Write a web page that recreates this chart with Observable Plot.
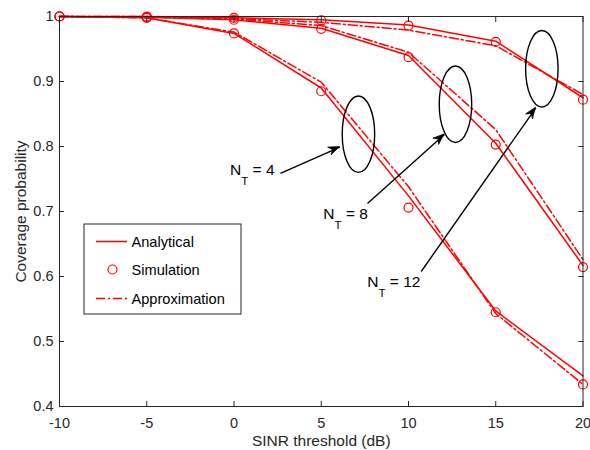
<!DOCTYPE html>
<html>
<head>
<meta charset="utf-8">
<script src="https://cdn.jsdelivr.net/npm/d3@7"></script>
<script src="https://cdn.jsdelivr.net/npm/@observablehq/plot@0.6"></script>
<style>
  body { margin: 0; background: #fff; }
  #chart svg { display: block; }
</style>
</head>
<body>
<div id="chart"></div>
<script>
// ---- data ----
const snr = [-10, -5, 0, 5, 10, 15, 20];
const antennas = ["4", "8", "12"];
const nt4Analytical  = [1, 0.998, 0.974, 0.890, 0.724, 0.547, 0.447];
const nt4Simulation  = [1, 0.998, 0.974, 0.885, 0.706, 0.545, 0.434];
const nt4Approx      = [1, 0.998, 0.976, 0.899, 0.738, 0.543, 0.434];
const nt8Analytical  = [1, 0.999, 0.995, 0.982, 0.940, 0.805, 0.617];
const nt8Simulation  = [1, 0.999, 0.995, 0.981, 0.9375, 0.803, 0.6145];
const nt8Approx      = [1, 0.999, 0.996, 0.986, 0.945, 0.826, 0.626];
const nt12Analytical = [1, 1.0, 0.998, 0.995, 0.987, 0.962, 0.875];
const nt12Simulation = [1, 1.0, 0.998, 0.994, 0.986, 0.961, 0.872];
const nt12Approx     = [1, 1.0, 0.997, 0.991, 0.979, 0.955, 0.880];
const xTicks = [-10, -5, 0, 5, 10, 15, 20];
const yTicks = [0.4, 0.5, 0.6, 0.7, 0.8, 0.9, 1];
const legendLabels = ["Analytical", "Simulation", "Approximation"];
const xLabel = "SINR threshold (dB)";
const yLabel = "Coverage probability";

// annotations (data coordinates)
const ellipseX = [7.16, 12.72, 17.67];
const ellipseY = [0.8182, 0.8643, 0.9188];
const ellipseRx = 0.93;
const ellipseRy = 0.0588;
const arrowX1 = [2.66, 7.65, 10.73];
const arrowY1 = [0.7585, 0.7123, 0.6077];
const arrowX2 = [6.07, 12.06, 17.30];
const arrowY2 = [0.7992, 0.8185, 0.8595];
const labelX = [-0.2, 5.15, 7.67];
const labelY = [0.7554, 0.687, 0.5835];

// ---- build tables ----
function rows(seriesList) {
  const out = [];
  seriesList.forEach((vals, k) => vals.forEach((v, i) => out.push({snr: snr[i], p: v, nt: antennas[k]})));
  return out;
}
const analytical = rows([nt4Analytical, nt8Analytical, nt12Analytical]);
const simulation = rows([nt4Simulation, nt8Simulation, nt12Simulation]);
const approx = rows([nt4Approx, nt8Approx, nt12Approx]);
const arrows = arrowX1.map((d, i) => ({x1: d, y1: arrowY1[i], x2: arrowX2[i], y2: arrowY2[i]}));

const RED = "#ff0000";
const AX = "#262626";
const FONT = "'Liberation Sans', Arial, Helvetica, sans-serif";

function annotations(index, scales, values, dimensions) {
  const {x, y} = scales;
  const g = d3.create("svg:g").attr("font-family", FONT).attr("text-anchor", "start");
  // ellipses
  ellipseX.forEach((cx, i) => {
    g.append("ellipse")
      .attr("cx", x(cx)).attr("cy", y(ellipseY[i]))
      .attr("rx", Math.abs(x(cx + ellipseRx) - x(cx)))
      .attr("ry", Math.abs(y(ellipseY[i] + ellipseRy) - y(ellipseY[i])))
      .attr("fill", "none").attr("stroke", "#000").attr("stroke-width", 1.4);
  });
  // arrow heads
  arrows.forEach(a => {
    const tx = x(a.x2), ty = y(a.y2);
    const ang = Math.atan2(ty - y(a.y1), tx - x(a.x1));
    const L = 11, W = 4.2, N = 7.5;
    const ux = Math.cos(ang), uy = Math.sin(ang);
    const px = -uy, py = ux;
    const bx = tx - ux * L, by = ty - uy * L;
    const nx = tx - ux * N, ny = ty - uy * N;
    g.append("path")
      .attr("d", `M${tx},${ty}L${bx + px * W},${by + py * W}L${nx},${ny}L${bx - px * W},${by - py * W}Z`)
      .attr("fill", "#000").attr("stroke", "#000").attr("stroke-width", 0.8);
  });
  // N_T labels
  labelX.forEach((lx, i) => {
    const t = g.append("text").attr("x", x(lx)).attr("y", y(labelY[i]))
      .attr("text-anchor", "start")
      .attr("font-size", 15.5).attr("fill", "#000");
    t.append("tspan").text("N");
    t.append("tspan").attr("dy", 10).attr("font-size", 11.5).text("T");
    t.append("tspan").attr("dy", -10).text(" = " + antennas[i]);
  });
  // legend
  const L0 = dimensions.marginLeft, T0 = dimensions.marginTop;
  const lg = g.append("g").attr("transform", `translate(${L0 + 25},${T0 + 208})`);
  lg.append("rect").attr("x", 0).attr("y", 0).attr("width", 157).attr("height", 90)
    .attr("fill", "#fff").attr("stroke", AX).attr("stroke-width", 1);
  const rowY = [17.5, 45.5, 74.5];
  lg.append("line").attr("x1", 12).attr("x2", 43).attr("y1", rowY[0]).attr("y2", rowY[0])
    .attr("stroke", RED).attr("stroke-width", 1.5);
  lg.append("circle").attr("cx", 28.5).attr("cy", rowY[1]).attr("r", 4.5)
    .attr("fill", "none").attr("stroke", RED).attr("stroke-width", 1.2);
  lg.append("line").attr("x1", 12).attr("x2", 43).attr("y1", rowY[2]).attr("y2", rowY[2])
    .attr("stroke", RED).attr("stroke-width", 1.5).attr("stroke-dasharray", "9,3,2,3");
  legendLabels.forEach((s, i) => {
    lg.append("text").attr("x", 47.5).attr("y", rowY[i] + 5.6)
      .attr("text-anchor", "start")
      .attr("font-size", 14.6).attr("fill", "#000").text(s);
  });
  return g.node();
}

const chart = Plot.plot({
  width: 590,
  height: 450,
  marginLeft: 59,
  marginRight: 7.5,
  marginTop: 16,
  marginBottom: 44,
  style: {fontFamily: FONT, fontSize: "14.5px", color: AX, background: "#fff", overflow: "visible"},
  x: {domain: [-10, 20]},
  y: {domain: [0.4, 1]},
  marks: [
    Plot.line(analytical, {x: "snr", y: "p", z: "nt", stroke: RED, strokeWidth: 1.5}),
    Plot.line(approx, {x: "snr", y: "p", z: "nt", stroke: RED, strokeWidth: 1.5, strokeDasharray: "9,3,2,3"}),
    Plot.dot(simulation, {x: "snr", y: "p", r: 4.5, stroke: RED, fill: "none", strokeWidth: 1.2}),
    Plot.link(arrows, {x1: "x1", y1: "y1", x2: "x2", y2: "y2", stroke: "#000", strokeWidth: 1.4}),
    annotations,
    Plot.frame({stroke: AX, strokeWidth: 1}),
    Plot.axisX({anchor: "bottom", ticks: xTicks, tickSize: -5, tickPadding: 16, tickFormat: d => String(d), label: null, stroke: AX}),
    Plot.axisX({anchor: "top", ticks: xTicks, tickSize: -5, tickFormat: () => "", label: null, stroke: AX}),
    Plot.axisY({anchor: "left", ticks: yTicks, tickSize: -5, tickPadding: 11, tickFormat: d => String(+d.toFixed(1)), label: null, stroke: AX}),
    Plot.axisY({anchor: "right", ticks: yTicks, tickSize: -5, tickFormat: () => "", label: null, stroke: AX}),
    Plot.text([xLabel], {frameAnchor: "bottom", text: d => d, dy: 35, fontSize: 15.5, fill: AX, lineAnchor: "middle", textAnchor: "middle"}),
    Plot.text([yLabel], {frameAnchor: "left", text: d => d, dx: -38, rotate: -90, fontSize: 15.5, fill: AX, lineAnchor: "middle", textAnchor: "middle"})
  ]
});
document.getElementById("chart").appendChild(chart);
</script>
</body>
</html>
